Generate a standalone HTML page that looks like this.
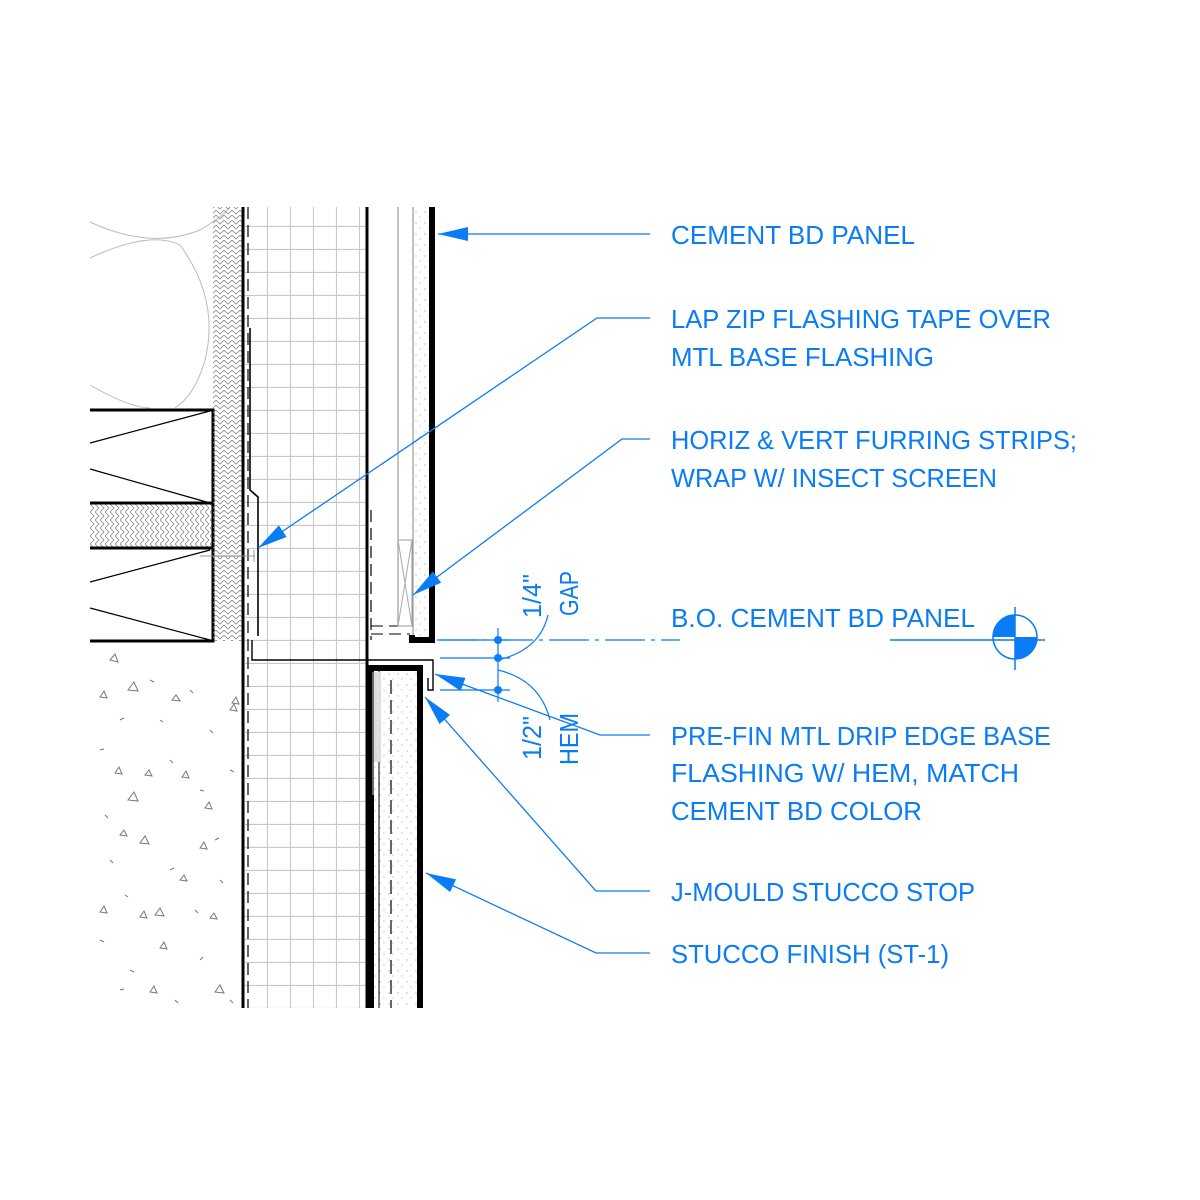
<!DOCTYPE html>
<html><head><meta charset="utf-8"><style>
html,body{margin:0;padding:0;background:#fff;}
svg{display:block;}
text{font-family:"Liberation Sans","DejaVu Sans",sans-serif;fill:#0a7cf5;font-size:26px;}
</style></head><body>
<svg width="1200" height="1200" viewBox="0 0 1200 1200" xmlns="http://www.w3.org/2000/svg">
<defs>
<pattern id="grid" x="245" y="204" width="23" height="23" patternUnits="userSpaceOnUse">
<path d="M22.5 0V23M0 22.5H23" stroke="#c8c8c8" stroke-width="1.2" fill="none"/>
</pattern>
<pattern id="chev" x="0" y="0" width="8" height="5" patternUnits="userSpaceOnUse">
<path d="M0 0L4 4L8 0" stroke="#888" stroke-width="0.8" fill="none"/>
</pattern>
<pattern id="chevh" x="0" y="0" width="5" height="8" patternUnits="userSpaceOnUse">
<path d="M0 0L4 4L0 8" stroke="#888" stroke-width="0.8" fill="none"/>
</pattern>
<pattern id="dots" width="9" height="11" patternUnits="userSpaceOnUse">
<circle cx="2" cy="3" r="0.6" fill="#999"/><circle cx="6" cy="8" r="0.6" fill="#aaa"/>
</pattern>
<marker id="ar" markerWidth="30" markerHeight="14" refX="30" refY="7" orient="auto" markerUnits="userSpaceOnUse">
<path d="M30 7L0 0L0 14Z" fill="#0a7cf5"/>
</marker>
</defs>

<!-- insulation batt curves -->
<path d="M90 222 Q150 250 200 230 Q225 215 230 207" stroke="#bbb" fill="none"/>
<path d="M90 258 Q150 230 180 245 Q220 300 205 360 Q195 395 175 408" stroke="#bbb" fill="none"/>
<path d="M90 385 Q130 408 150 408" stroke="#bbb" fill="none"/>

<!-- joist blocks -->
<rect x="90" y="503" width="122" height="45" fill="url(#chevh)"/>
<g stroke="#000" stroke-width="3" fill="none">
<path d="M90 410H213V641H90M90 503H213M90 548H213"/>
</g>
<g stroke="#000" stroke-width="1.2" fill="none">
<path d="M90 443L210 411M90 469L210 503M90 582L210 550M90 608L210 640"/>
</g>

<!-- sheathing -->
<rect x="213" y="207" width="30" height="434" fill="url(#chev)"/>

<!-- concrete -->
<g stroke="#777" stroke-width="1" fill="none">
<path d="M110 660l5 -6l3 8zM128 690l6 -8l4 9zM100 697l4 -6l3 7zM172 700l4 -5l4 6zM232 703l4 -6l3 7zM115 773l4 -6l3 7zM145 775l4 -5l3 6zM182 777l4 -6l3 7zM128 800l6 -8l4 9zM205 808l4 -6l3 7zM140 843l5 -7l4 8zM200 848l4 -6l3 7zM180 880l4 -5l3 6zM100 912l4 -6l3 7zM140 917l4 -6l3 7zM155 915l5 -7l4 8zM210 918l4 -5l3 6zM160 948l4 -6l3 7zM150 992l4 -6l3 7zM215 992l5 -7l4 8zM230 710l4 -6l3 7zM120 835l4 -5l3 6z"/>
<path d="M150 680l4 2M190 690l3 3M120 720l4 -2M210 730l3 3M100 750l4 -1M170 760l3 3M230 770l4 2M110 860l3 3M170 870l4 -2M220 880l3 3M100 940l4 2M200 960l3 -3M130 970l4 2M230 1000l3 3M120 990l4 -1M175 1000l3 3M160 720l3 2M200 790l4 1M105 815l3 3M215 840l4 -2M125 895l3 2M195 910l3 3"/>
</g>

<!-- rigid insulation grid -->
<rect x="245" y="207" width="121" height="801" fill="url(#grid)"/>

<!-- main vertical lines -->
<g stroke="#000" fill="none">
<path d="M243 207V1008" stroke-width="3"/>
<path d="M248 207V1008" stroke-width="1.2" stroke-dasharray="12 6"/>
<path d="M367 207V1008" stroke-width="3"/>
<path d="M250 328V490L258 497V636" stroke-width="1.6"/>
<path d="M200 556H255M254 550V562" stroke="#999" stroke-width="1"/>
<path d="M398 207V626M413 207V636" stroke="#999" stroke-width="1.2"/>
<path d="M371 510V640" stroke-width="1.2" stroke-dasharray="12 6"/>
<path d="M371 626H410M371 634H410" stroke-width="1" stroke-dasharray="12 6"/>
</g>
<rect x="414" y="207" width="16" height="430" fill="url(#dots)"/>
<rect x="398" y="540" width="14" height="86" fill="none" stroke="#999"/>
<path d="M398 540L412 626M412 540L398 626" stroke="#aaa"/>
<path d="M432 207V640H412V635" stroke="#000" stroke-width="6" fill="none"/>

<!-- flashing -->
<path d="M252 640V660H433V690H428V678" stroke="#000" stroke-width="1.4" fill="none"/>

<!-- lower stucco -->
<rect x="374" y="668" width="45" height="340" fill="url(#dots)"/>
<g stroke="#000" fill="none">
<path d="M371 1008V668H420V1008" stroke-width="6"/>
<path d="M379 670V1008" stroke-width="1"/>
<path d="M391 680V1008" stroke-width="1.2" stroke-dasharray="14 6"/>
<path d="M373 672V795" stroke="#666" stroke-width="2"/>
</g>
<rect x="374" y="672" width="7" height="90" fill="#ddd"/>

<!-- B.O. line -->
<path d="M437 640H680" stroke="#0a7cf5" stroke-width="1.2" stroke-dasharray="40 6 4 6"/>
<path d="M890 640H1045M1015 607V670" stroke="#0a7cf5" stroke-width="1.5"/>
<circle cx="1015" cy="637" r="22" fill="none" stroke="#0a7cf5" stroke-width="1.5"/>
<path d="M1015 637H993A22 22 0 0 1 1015 615Z M1015 637H1037A22 22 0 0 1 1015 659Z" fill="#0a7cf5"/>

<!-- dimension -->
<g stroke="#0a7cf5" stroke-width="1.2" fill="none">
<path d="M498 628V702M440 640H510M440 658H510M440 690H510"/>
<path d="M498 660Q540 650 548 615"/>
<path d="M498 670Q540 680 550 720"/>
</g>
<g fill="#0a7cf5"><circle cx="498" cy="640" r="4"/><circle cx="498" cy="658" r="4"/><circle cx="498" cy="690" r="4"/></g>
<text transform="translate(541,618) rotate(-90)" textLength="44" lengthAdjust="spacingAndGlyphs">1/4"</text>
<text transform="translate(578,616) rotate(-90)" textLength="45" lengthAdjust="spacingAndGlyphs">GAP</text>
<text transform="translate(541,760) rotate(-90)" textLength="44" lengthAdjust="spacingAndGlyphs">1/2"</text>
<text transform="translate(578,765) rotate(-90)" textLength="52" lengthAdjust="spacingAndGlyphs">HEM</text>

<!-- leaders -->
<g stroke="#0a7cf5" stroke-width="1.3" fill="none">
<path d="M650 234H438" marker-end="url(#ar)"/>
<path d="M650 318H597L258 548" marker-end="url(#ar)"/>
<path d="M650 439H622L413 595" marker-end="url(#ar)"/>
<path d="M650 735H600L435 674" marker-end="url(#ar)"/>
<path d="M650 891H596L425 697" marker-end="url(#ar)"/>
<path d="M650 953H596L426 873" marker-end="url(#ar)"/>
</g>

<!-- labels -->
<text x="671" y="244" textLength="244" lengthAdjust="spacingAndGlyphs">CEMENT BD PANEL</text>
<text x="671" y="328" textLength="380" lengthAdjust="spacingAndGlyphs">LAP ZIP FLASHING TAPE OVER</text>
<text x="671" y="366" textLength="263" lengthAdjust="spacingAndGlyphs">MTL BASE FLASHING</text>
<text x="671" y="449" textLength="406" lengthAdjust="spacingAndGlyphs">HORIZ &amp; VERT FURRING STRIPS;</text>
<text x="671" y="487" textLength="326" lengthAdjust="spacingAndGlyphs">WRAP W/ INSECT SCREEN</text>
<text x="671" y="627" textLength="304" lengthAdjust="spacingAndGlyphs">B.O. CEMENT BD PANEL</text>
<text x="671" y="745" textLength="380" lengthAdjust="spacingAndGlyphs">PRE-FIN MTL DRIP EDGE BASE</text>
<text x="671" y="782" textLength="348" lengthAdjust="spacingAndGlyphs">FLASHING W/ HEM, MATCH</text>
<text x="671" y="820" textLength="251" lengthAdjust="spacingAndGlyphs">CEMENT BD COLOR</text>
<text x="671" y="901" textLength="304" lengthAdjust="spacingAndGlyphs">J-MOULD STUCCO STOP</text>
<text x="671" y="963" textLength="278" lengthAdjust="spacingAndGlyphs">STUCCO FINISH (ST-1)</text>
</svg>
</body></html>
